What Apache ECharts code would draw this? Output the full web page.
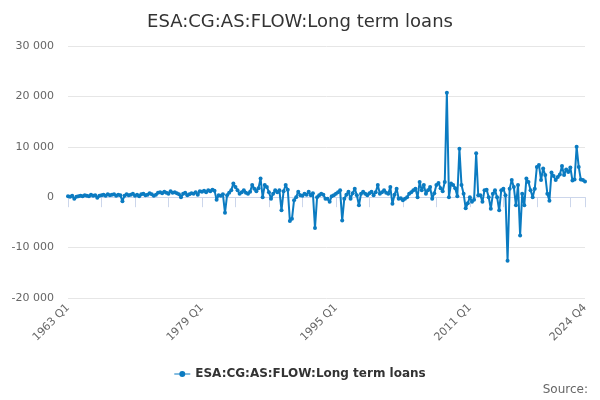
<!DOCTYPE html>
<html>
<head>
<meta charset="utf-8">
<script src="https://cdn.jsdelivr.net/npm/echarts@6/dist/echarts.min.js"></script>
<style>html,body{margin:0;padding:0;background:#fff}#c{width:600px;height:400px}</style>
</head>
<body>
<div id="c"></div>
<script>
const title = 'ESA:CG:AS:FLOW:Long term loans';
const seriesName = 'ESA:CG:AS:FLOW:Long term loans';
const firstYear = 1963;
const lastYear = 2024;
const yTicks = [-20000, -10000, 0, 10000, 20000, 30000];

// Quarterly values, one row per year (Q1..Q4)
const values = [
  200, 100, 300, -300,      // 1963
  100, 200, 300, 200,       // 1964
  400, 300, 200, 500,       // 1965
  300, 400, -100, 300,      // 1966
  400, 500, 300, 600,       // 1967
  400, 500, 600, 300,       // 1968
  500, 400, -800, 300,      // 1969
  600, 400, 500, 700,       // 1970
  300, 500, 200, 600,       // 1971
  700, 400, 500, 800,       // 1972
  600, 300, 500, 900,       // 1973
  1000, 800, 1100, 900,     // 1974
  700, 1200, 900, 1000,     // 1975
  800, 600, 0, 700,         // 1976
  900, 400, 600, 800,       // 1977
  700, 1000, 500, 1200,     // 1978
  1100, 1300, 1000, 1400,   // 1979
  1200, 1500, 1300, -500,   // 1980
  400, 300, 600, -3100,     // 1981
  400, 900, 1400, 2700,     // 1982
  2000, 1400, 700, 1000,    // 1983
  1400, 900, 700, 1100,     // 1984
  2400, 1700, 1200, 1800,   // 1985
  3700, 0, 2400, 2000,      // 1986
  1000, -300, 700, 1400,    // 1987
  1000, 1400, -2600, 1200,  // 1988
  2400, 1500, -4700, -4300, // 1989
  -600, 0, 1100, 400,       // 1990
  300, 700, 500, 1100,      // 1991
  400, 800, -6100, 0,       // 1992
  400, 700, 500, -300,      // 1993
  -300, -900, 200, 400,     // 1994
  700, 1000, 1400, -4600,   // 1995
  -300, 500, 1100, -300,    // 1996
  800, 1700, 400, -1600,    // 1997
  700, 1100, 700, 400,      // 1998
  800, 1100, 400, 1000,     // 1999
  2400, 700, 1000, 1400,    // 2000
  900, 700, 2000, -1300,    // 2001
  500, 1700, -300, -200,    // 2002
  -600, -300, 0, 700,       // 2003
  1000, 1400, 1700, 0,      // 2004
  3000, 1400, 2400, 700,    // 2005
  1400, 2000, -300, 800,    // 2006
  2400, 2800, 1800, 1200,   // 2007
  3000, 20700, 0, 2700,     // 2008
  2400, 1800, 200, 9600,    // 2009
  2400, 700, -2200, -1200,  // 2010
  0, -900, -500, 8700,      // 2011
  400, 400, -900, 1400,     // 2012
  1500, 0, -2300, 700,      // 2013
  1400, 0, -2600, 1400,     // 2014
  1700, 400, -12600, 1700,  // 2015
  3400, 2000, -1600, 2400,  // 2016
  -7600, 700, -1600, 3700,  // 2017
  3000, 1400, 0, 1700,      // 2018
  6000, 6400, 3400, 5700,   // 2019
  4400, 700, -700, 4900,    // 2020
  4200, 3400, 4000, 4500,   // 2021
  6200, 4400, 5500, 5000,   // 2022
  5900, 3300, 3500, 10000,  // 2023
  6000, 3500, 3400, 3100    // 2024
];

const categories = [];
for (let y = firstYear; y <= lastYear; y++) {
  for (let q = 1; q <= 4; q++) categories.push(y + ' Q' + q);
}
const lastIdx = categories.length - 1;

function fmt(v) {
  const s = Math.abs(v).toString().replace(/\B(?=(\d{3})+(?!\d))/g, ' ');
  return (v < 0 ? '-' : '') + s;
}

const chart = echarts.init(document.getElementById('c'));
chart.setOption({
  animation: false,
  backgroundColor: '#ffffff',
  title: {
    text: title,
    left: 'center',
    top: 8,
    textStyle: { fontFamily: 'DejaVu Sans', fontSize: 18, fontWeight: 'normal', color: '#333333' }
  },
  legend: {
    bottom: 15,
    left: 'center',
    itemWidth: 16,
    itemHeight: 6,
    itemGap: 10,
    textStyle: { fontFamily: 'DejaVu Sans', fontSize: 12, fontWeight: 'bold', color: '#333333' },
    data: [{ name: seriesName, icon: 'path://M0,3.4 L16,3.4 L16,4.6 L0,4.6 Z M11,4 A3,3 0 1,1 5,4 A3,3 0 1,1 11,4 Z' }]
  },
  grid: { left: 68, right: 15, top: 46, bottom: 102, containLabel: false },
  xAxis: {
    type: 'category',
    data: categories,
    boundaryGap: false,
    axisLine: { lineStyle: { color: '#ccd6eb' } },
    axisTick: {
      length: 10,
      lineStyle: { color: '#ccd6eb' },
      interval: (i) => i % 16 === 0 || i === lastIdx
    },
    axisLabel: {
      rotate: 45,
      color: '#666666',
      fontFamily: 'DejaVu Sans',
      fontSize: 11,
      margin: 8,
      interval: (i) => i % 64 === 0 || i === lastIdx
    },
    splitLine: { show: false }
  },
  yAxis: {
    type: 'value',
    min: yTicks[0],
    max: yTicks[yTicks.length - 1],
    interval: 10000,
    axisLine: { show: false },
    axisTick: { show: false },
    axisLabel: { color: '#666666', fontFamily: 'DejaVu Sans', fontSize: 11, margin: 14, formatter: fmt },
    splitLine: { lineStyle: { color: '#e6e6e6' } }
  },
  series: [{
    name: seriesName,
    type: 'line',
    data: values,
    color: '#0b7bc1',
    lineStyle: { width: 2, color: '#0b7bc1' },
    itemStyle: { color: '#0b7bc1' },
    symbol: 'circle',
    symbolSize: 4,
    showSymbol: true,
    showAllSymbol: true
  }],
  graphic: [{
    type: 'text',
    right: 12,
    bottom: 4,
    style: { text: 'Source:', fontFamily: 'DejaVu Sans', fontSize: 12, fill: '#666666' }
  }]
});
</script>
</body>
</html>
